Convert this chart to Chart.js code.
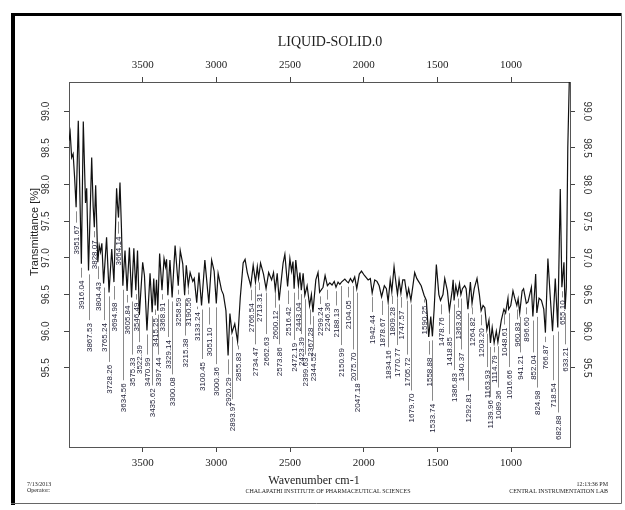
<!DOCTYPE html>
<html>
<head>
<meta charset="utf-8">
<script src="https://cdn.jsdelivr.net/npm/chart.js@4.4.1/dist/chart.umd.min.js"></script>
<style>
  body { margin: 0; background: #fff; }
  canvas { display: block; }
</style>
</head>
<body>
<canvas id="c" width="625" height="510"></canvas>
<script>
// spectrum vertices (wavenumber, %T)
const waveNumbers = [
  4000, 3992, 3982, 3972, 3962, 3951.67, 3937, 3916.04, 3903, 3888, 3880, 3867.53,
  3846, 3836, 3828.07, 3819, 3804.43, 3795, 3786, 3777, 3765.24, 3745, 3728.26, 3710,
  3694.98, 3677, 3670, 3664.14, 3654, 3644, 3634.56, 3620, 3605.84, 3590, 3575.33, 3560,
  3546.49, 3535, 3522.39, 3500, 3488, 3470.99, 3450, 3435.62, 3425, 3415.25, 3406, 3397.44,
  3385, 3368.91, 3355, 3345, 3338, 3329.14, 3315, 3300.08, 3280, 3258.59, 3245, 3228,
  3215.38, 3204, 3190.56, 3178, 3160, 3150, 3133.24, 3118, 3100.45, 3078, 3051.10, 3032,
  3015, 3000.36, 2988, 2965, 2952, 2935, 2920.29, 2908, 2893.97, 2875, 2855.83, 2838,
  2818, 2805, 2790, 2766.54, 2750, 2734.47, 2722, 2713.31, 2700, 2680, 2662.63, 2645,
  2625, 2612, 2600.12, 2587, 2573.86, 2547, 2535, 2516.42, 2501, 2490, 2480, 2472.19,
  2461, 2443.04, 2433, 2423.39, 2411, 2399.63, 2384, 2367.28, 2355, 2344.52, 2325, 2310,
  2299.24, 2276, 2262, 2246.36, 2230, 2215, 2200, 2188.13, 2174, 2162, 2150.99, 2128,
  2115, 2104.05, 2090, 2075.70, 2061, 2047.18, 2030, 2015, 1995, 1970, 1955, 1942.44,
  1925, 1910, 1895, 1878.67, 1860, 1846, 1834.16, 1820, 1809.28, 1794, 1780, 1770.77,
  1760, 1747.57, 1735, 1722, 1705.72, 1695, 1679.70, 1654, 1640, 1631, 1610, 1590.25,
  1575, 1558.88, 1545, 1533.74, 1522, 1507, 1490, 1478.76, 1462, 1450, 1432, 1418.85,
  1400, 1393, 1386.83, 1375, 1363.00, 1350, 1340.37, 1330, 1315, 1305, 1292.81, 1276,
  1264.82, 1250, 1231, 1215, 1203.20, 1190, 1178, 1163.93, 1150, 1139.96, 1128, 1114.79,
  1100, 1089.36, 1066, 1048.61, 1037, 1021, 1016.66, 1002, 987, 975, 960.83, 952,
  941.21, 925, 915, 896.60, 885, 862, 852.04, 840, 833, 824.98, 810, 794,
  778, 766.87, 750, 735, 718.54, 700, 682.88, 666, 655.10, 641, 633.21, 625,
  615, 605
];
const transmittance = [
  98.60, 98.71, 98.37, 98.42, 98.10, 97.69, 98.87, 96.92, 98.86, 97.75, 97.95, 96.83,
  98.37, 97.70, 97.42, 97.99, 96.94, 97.17, 97.08, 97.20, 96.65, 97.28, 96.53, 97.12,
  96.67, 97.95, 97.70, 97.55, 98.03, 97.40, 96.62, 97.10, 96.55, 97.14, 96.46, 97.13,
  96.56, 97.10, 96.22, 96.94, 96.76, 96.01, 96.79, 96.26, 96.72, 96.35, 96.70, 96.28,
  97.06, 96.56, 96.99, 96.88, 96.98, 96.49, 96.97, 96.46, 97.17, 96.62, 97.10, 96.92,
  96.49, 96.90, 96.62, 96.80, 96.68, 96.72, 96.39, 96.80, 96.35, 96.97, 96.38, 96.97,
  96.82, 96.38, 96.79, 96.56, 96.50, 96.28, 95.67, 96.24, 95.98, 96.10, 95.86, 96.45,
  96.93, 96.98, 96.80, 96.62, 96.90, 96.67, 96.88, 96.72, 96.93, 96.78, 96.58, 96.80,
  96.70, 96.80, 96.56, 96.79, 96.42, 96.93, 97.05, 96.61, 96.99, 96.82, 96.95, 96.58,
  96.97, 96.62, 96.80, 96.56, 96.79, 96.49, 96.62, 96.35, 96.50, 96.26, 96.70, 96.80,
  96.53, 96.60, 96.76, 96.62, 96.66, 96.63, 96.68, 96.60, 96.67, 96.64, 96.67, 96.71,
  96.68, 96.66, 96.72, 96.67, 96.74, 96.58, 96.78, 96.82, 96.76, 96.70, 96.72, 96.52,
  96.70, 96.68, 96.62, 96.47, 96.62, 96.58, 96.40, 96.70, 96.54, 96.88, 96.64, 96.50,
  96.70, 96.52, 96.70, 96.70, 96.47, 96.58, 96.42, 96.80, 96.72, 96.69, 96.62, 96.49,
  96.42, 95.92, 96.20, 95.93, 96.30, 96.91, 96.50, 96.42, 96.50, 96.72, 96.55, 96.28,
  96.55, 96.70, 96.42, 96.62, 96.50, 96.65, 96.50, 96.58, 96.62, 96.58, 96.30, 96.67,
  96.38, 96.58, 96.72, 96.50, 96.28, 96.35, 96.32, 96.02, 96.15, 95.84, 96.05, 95.84,
  96.00, 95.85, 96.15, 96.30, 96.25, 96.45, 96.30, 96.35, 96.55, 96.45, 96.35, 96.44,
  96.25, 96.55, 96.58, 96.38, 96.40, 96.60, 96.20, 96.55, 96.78, 96.25, 96.45, 96.42,
  96.30, 95.98, 96.99, 96.50, 96.00, 96.72, 96.05, 97.94, 96.60, 96.94, 96.30, 96.60,
  98.50, 99.40
];

// picked peaks and the %T level where each label starts
const peakWn = [
  3951.67, 3916.04, 3867.53, 3828.07, 3804.43, 3765.24, 3728.26, 3694.98, 3664.14, 3634.56,
  3605.84, 3575.33, 3546.49, 3522.39, 3470.99, 3435.62, 3415.25, 3397.44, 3368.91, 3329.14,
  3300.08, 3258.59, 3215.38, 3190.56, 3133.24, 3100.45, 3051.10, 3000.36, 2920.29, 2893.97,
  2855.83, 2766.54, 2734.47, 2713.31, 2662.63, 2600.12, 2573.86, 2516.42, 2472.19, 2443.04,
  2423.39, 2399.63, 2367.28, 2344.52, 2299.24, 2246.36, 2188.13, 2150.99, 2104.05, 2075.70,
  2047.18, 1942.44, 1878.67, 1834.16, 1809.28, 1770.77, 1747.57, 1705.72, 1679.70, 1590.25,
  1558.88, 1533.74, 1478.76, 1418.85, 1386.83, 1363.00, 1340.37, 1292.81, 1264.82, 1203.20,
  1163.93, 1139.96, 1114.79, 1089.36, 1048.61, 1016.66, 960.83, 941.21, 896.60, 852.04,
  824.98, 766.87, 718.54, 682.88, 655.10, 633.21
];
const peakLevel = [
  97.44, 96.69, 96.11, 97.24, 96.67, 96.11, 95.54, 96.39, 97.29, 95.29,
  96.35, 95.64, 96.39, 95.81, 95.64, 95.22, 96.18, 95.64, 96.39, 95.88,
  95.37, 96.46, 95.90, 96.46, 96.26, 95.58, 96.05, 95.51, 95.37, 95.03,
  95.71, 96.38, 95.78, 96.52, 95.92, 96.28, 95.78, 96.33, 95.84, 96.39,
  95.92, 95.64, 96.05, 95.71, 96.33, 96.39, 96.31, 95.77, 96.42, 95.71,
  95.29, 96.22, 96.18, 95.74, 96.33, 95.77, 96.28, 95.64, 95.15, 96.35,
  95.64, 95.01, 96.19, 95.92, 95.43, 96.28, 95.71, 95.15, 96.19, 96.04,
  95.47, 95.06, 95.67, 95.19, 96.05, 95.47, 96.12, 95.67, 96.19, 95.67,
  95.19, 95.81, 95.29, 94.85, 96.42, 95.78
];

const xTicks = [1000, 1500, 2000, 2500, 3000, 3500];
const yTicks = [95.5, 96.0, 96.5, 97.0, 97.5, 98.0, 98.5, 99.0];

const SERIF = '"Liberation Serif", "DejaVu Serif", serif';
const SANS = '"Liberation Sans", Arial, sans-serif';

function valueAt(wn) {
  const i = waveNumbers.indexOf(wn);
  if (i >= 0) return transmittance[i];
  for (let k = 1; k < waveNumbers.length; k++) {
    if (waveNumbers[k] <= wn) {
      const t = (wn - waveNumbers[k - 1]) / (waveNumbers[k] - waveNumbers[k - 1]);
      return transmittance[k - 1] + t * (transmittance[k] - transmittance[k - 1]);
    }
  }
  return transmittance[transmittance.length - 1];
}

const points = waveNumbers.map((w, i) => ({ x: w, y: transmittance[i] }));

function xAxis(pos, h) {
  return {
    type: 'linear', position: pos, min: 600, max: 4000, reverse: true,
    afterBuildTicks: s => { s.ticks = xTicks.map(v => ({ value: v })); },
    afterFit: s => { s.height = h; },
    ticks: {
      color: '#222', font: { family: SERIF, size: 11 }, padding: 5, maxRotation: 0,
      callback: v => String(v)
    },
    grid: { drawOnChartArea: false, tickLength: 5, color: '#444' },
    border: { display: true, color: '#555', width: 1 }
  };
}
function yAxis(pos, w) {
  return {
    type: 'linear', position: pos, min: 94.42, max: 99.40,
    afterBuildTicks: s => { s.ticks = yTicks.map(v => ({ value: v })); },
    afterFit: s => { s.width = w; },
    ticks: { display: false },
    grid: { drawOnChartArea: false, tickLength: 5, color: '#444' },
    border: { display: true, color: '#555', width: 1 }
  };
}

const decor = {
  id: 'decor',
  afterDraw(chart) {
    const ctx = chart.ctx;
    const xs = chart.scales.x, ys = chart.scales.y;
    ctx.save();

    // peak pick lines + labels
    ctx.font = '8px ' + SANS;
    ctx.textAlign = 'right';
    ctx.textBaseline = 'middle';
    peakWn.forEach((wn, i) => {
      const px = Math.round(xs.getPixelForValue(wn)) + 0.5;
      const dipY = ys.getPixelForValue(valueAt(wn));
      const topY = ys.getPixelForValue(peakLevel[i]);
      const y1 = dipY + 4, y2 = topY - 3;
      if (y2 - y1 > 1) {
        ctx.strokeStyle = '#8a8a8a';
        ctx.lineWidth = 1;
        ctx.beginPath();
        ctx.moveTo(px, y1);
        ctx.lineTo(px, y2);
        ctx.stroke();
      }
      ctx.save();
      ctx.translate(px, topY);
      ctx.rotate(-Math.PI / 2);
      ctx.fillStyle = '#1c1c34';
      ctx.fillText(wn.toFixed(2), 0, 0);
      ctx.restore();
    });

    // rotated y tick labels on both sides
    ctx.font = '10px ' + SANS;
    ctx.fillStyle = '#333';
    ctx.textAlign = 'center';
    yTicks.forEach(v => {
      const py = ys.getPixelForValue(v);
      ctx.save();
      ctx.translate(46, py);
      ctx.rotate(-Math.PI / 2);
      ctx.fillText(v.toFixed(1), 0, 0);
      ctx.restore();
      ctx.save();
      ctx.translate(587, py);
      ctx.rotate(Math.PI / 2);
      ctx.fillText(v.toFixed(1), 0, 0);
      ctx.restore();
    });

    // axis titles
    ctx.fillStyle = '#222';
    ctx.font = '11px ' + SANS;
    ctx.save();
    ctx.translate(35, 232);
    ctx.rotate(-Math.PI / 2);
    ctx.fillText('Transmittance [%]', 0, 0);
    ctx.restore();

    ctx.font = '14px ' + SERIF;
    ctx.fillText('LIQUID-SOLID.0', 330, 42);
    ctx.font = '12px ' + SERIF;
    ctx.fillText('Wavenumber cm-1', 314, 481);

    // footer
    ctx.font = '6px ' + SERIF;
    ctx.textAlign = 'left';
    ctx.fillText('7/13/2013', 27, 484);
    ctx.fillText('Operator:', 27, 490);
    ctx.textAlign = 'center';
    ctx.fillText('CHALAPATHI INSTITUTE OF PHARMACEUTICAL SCIENCES', 328, 491);
    ctx.textAlign = 'right';
    ctx.fillText('12:13:36 PM', 608, 484);
    ctx.fillText('CENTRAL INSTRUMENTATION LAB', 608, 491);

    // page frame
    ctx.fillStyle = '#000';
    ctx.fillRect(11, 13, 611, 3);
    ctx.fillRect(11, 13, 4, 492);
    ctx.strokeStyle = '#666';
    ctx.lineWidth = 1;
    ctx.beginPath();
    ctx.moveTo(621.5, 13);
    ctx.lineTo(621.5, 503.5);
    ctx.lineTo(11, 503.5);
    ctx.stroke();
    ctx.restore();
  }
};

new Chart(document.getElementById('c'), {
  type: 'line',
  data: {
    datasets: [{
      data: points,
      borderColor: '#111',
      borderWidth: 1.2,
      pointRadius: 0,
      tension: 0,
      xAxisID: 'x',
      yAxisID: 'y'
    }]
  },
  options: {
    responsive: false,
    devicePixelRatio: 1,
    animation: false,
    layout: { padding: 0 },
    plugins: { legend: { display: false }, tooltip: { enabled: false } },
    scales: {
      x: xAxis('bottom', 63),
      x2: xAxis('top', 82),
      y: yAxis('left', 69),
      y2: yAxis('right', 55)
    }
  },
  plugins: [decor]
});
</script>
</body>
</html>
